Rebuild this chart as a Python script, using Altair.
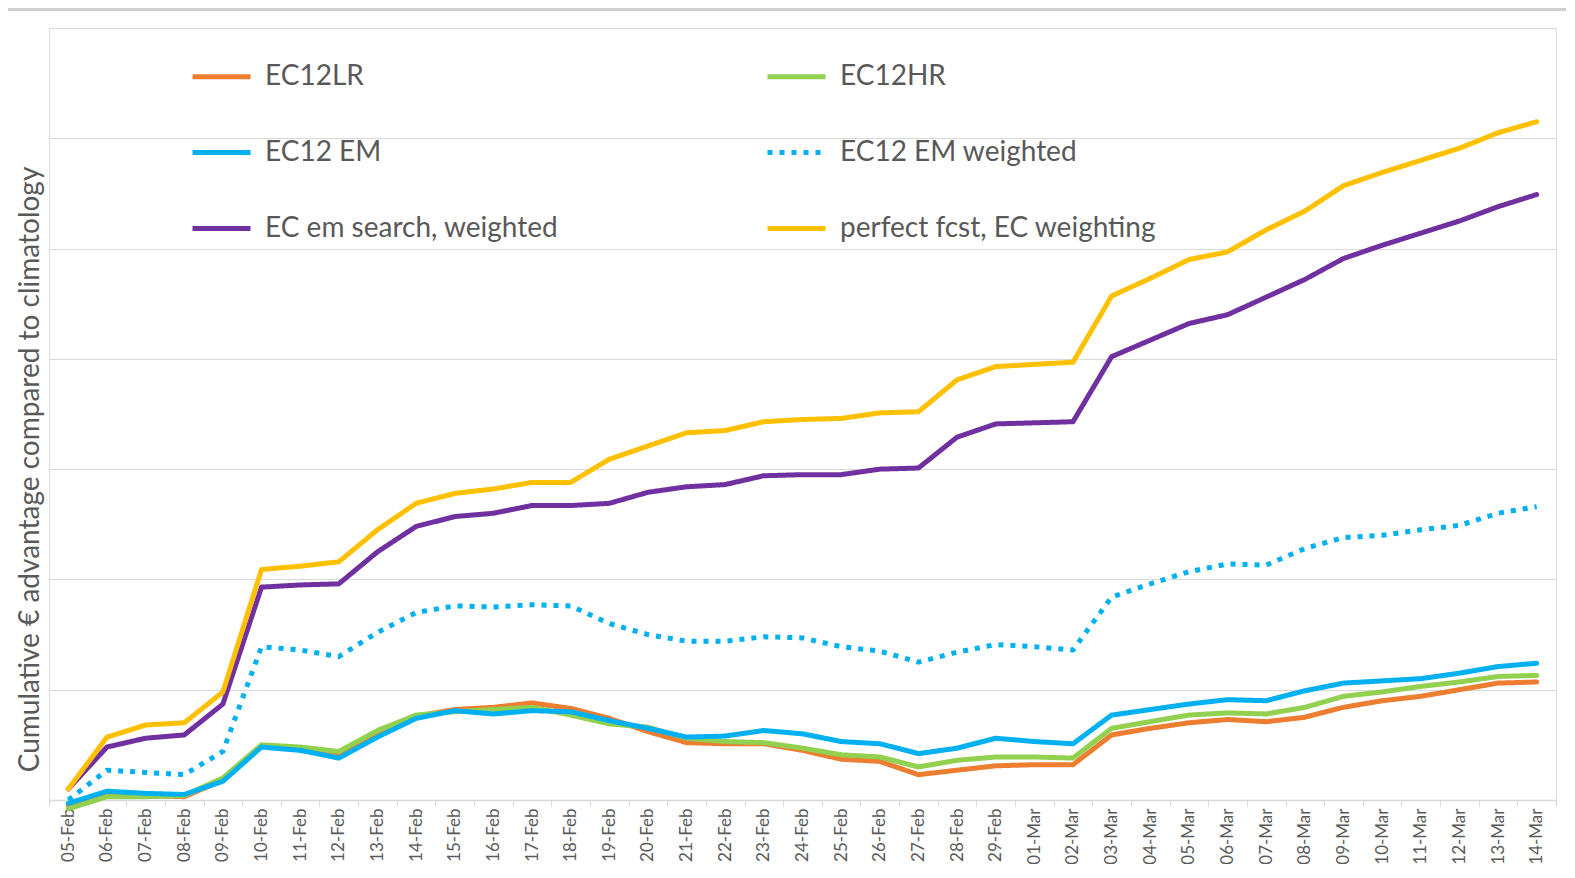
import altair as alt
import pandas as pd

dates = ["05-Feb", "06-Feb", "07-Feb", "08-Feb", "09-Feb", "10-Feb", "11-Feb", "12-Feb",
         "13-Feb", "14-Feb", "15-Feb", "16-Feb", "17-Feb", "18-Feb", "19-Feb", "20-Feb",
         "21-Feb", "22-Feb", "23-Feb", "24-Feb", "25-Feb", "26-Feb", "27-Feb", "28-Feb",
         "29-Feb", "01-Mar", "02-Mar", "03-Mar", "04-Mar", "05-Mar", "06-Mar", "07-Mar",
         "08-Mar", "09-Mar", "10-Mar", "11-Mar", "12-Mar", "13-Mar", "14-Mar"]

ec12_lr = [-0.05, 0.05, 0.04, 0.03, 0.18, 0.49, 0.47, 0.41, 0.60, 0.76, 0.82, 0.84, 0.88,
           0.83, 0.74, 0.62, 0.52, 0.51, 0.51, 0.45, 0.37, 0.35, 0.23, 0.27, 0.31, 0.32,
           0.32, 0.59, 0.65, 0.70, 0.73, 0.71, 0.75, 0.84, 0.90, 0.94, 1.00, 1.06, 1.07]
ec12_hr = [-0.08, 0.03, 0.03, 0.04, 0.20, 0.50, 0.48, 0.44, 0.63, 0.77, 0.80, 0.82, 0.84,
           0.77, 0.69, 0.66, 0.56, 0.53, 0.52, 0.47, 0.41, 0.39, 0.30, 0.36, 0.39, 0.39,
           0.38, 0.65, 0.71, 0.77, 0.79, 0.78, 0.84, 0.94, 0.98, 1.03, 1.07, 1.12, 1.13]
ec12_em = [-0.03, 0.08, 0.06, 0.05, 0.17, 0.48, 0.45, 0.38, 0.57, 0.74, 0.81, 0.78, 0.81,
           0.80, 0.72, 0.65, 0.57, 0.58, 0.63, 0.60, 0.53, 0.51, 0.42, 0.47, 0.56, 0.53,
           0.51, 0.77, 0.82, 0.87, 0.91, 0.90, 0.99, 1.06, 1.08, 1.10, 1.15, 1.21, 1.24]
ec12_em_w = [0.00, 0.27, 0.25, 0.23, 0.44, 1.39, 1.36, 1.30, 1.52, 1.70, 1.76, 1.75, 1.77,
             1.76, 1.60, 1.50, 1.44, 1.44, 1.48, 1.47, 1.39, 1.35, 1.25, 1.34, 1.41, 1.39,
             1.36, 1.84, 1.96, 2.07, 2.14, 2.13, 2.28, 2.38, 2.40, 2.45, 2.49, 2.60, 2.66]
ec_search_w = [0.10, 0.48, 0.56, 0.59, 0.87, 1.93, 1.95, 1.96, 2.25, 2.48, 2.57, 2.60, 2.67,
               2.67, 2.69, 2.79, 2.84, 2.86, 2.94, 2.95, 2.95, 3.00, 3.01, 3.29, 3.41, 3.42,
               3.43, 4.02, 4.17, 4.32, 4.40, 4.56, 4.72, 4.91, 5.03, 5.14, 5.25, 5.38, 5.49]
perfect = [0.10, 0.57, 0.68, 0.70, 0.98, 2.09, 2.12, 2.16, 2.45, 2.69, 2.78, 2.82, 2.88,
           2.88, 3.09, 3.21, 3.33, 3.35, 3.43, 3.45, 3.46, 3.51, 3.52, 3.81, 3.93, 3.95,
           3.97, 4.57, 4.73, 4.90, 4.97, 5.17, 5.34, 5.57, 5.69, 5.80, 5.91, 6.05, 6.15]

# drawing order (later on top)
series_names = ["EC12LR", "EC12HR", "EC12 EM", "EC12 EM weighted",
                "EC em search, weighted", "perfect fcst, EC weighting"]
series_values = [ec12_lr, ec12_hr, ec12_em, ec12_em_w, ec_search_w, perfect]
series_colors = {"EC12LR": "#ED7D31", "EC12HR": "#92D050", "EC12 EM": "#00B0F0",
                 "EC12 EM weighted": "#00B0F0", "EC em search, weighted": "#7030A0",
                 "perfect fcst, EC weighting": "#FFC000"}
series_dash = {"EC12LR": [1, 0], "EC12HR": [1, 0], "EC12 EM": [1, 0],
               "EC12 EM weighted": [5, 7], "EC em search, weighted": [1, 0],
               "perfect fcst, EC weighting": [1, 0]}
# legend order (filled column by column: 3 rows x 2 columns)
legend_order = ["EC12LR", "EC12 EM", "EC em search, weighted",
                "EC12HR", "EC12 EM weighted", "perfect fcst, EC weighting"]

rows = []
for name, vals in zip(series_names, series_values):
    for d, v in zip(dates, vals):
        rows.append({"date": d, "value": v, "series": name})
df = pd.DataFrame(rows)

TXT = "#595959"
GRID = "#d9d9d9"
FONT = "Lato"
W, H = 1507, 772
PAD = {"left": 41, "top": 20, "right": 10, "bottom": 64}

legend = alt.Legend(
    title=None, orient="none", legendX=141, legendY=17, columns=2,
    symbolType="stroke", symbolSize=3364, symbolStrokeWidth=5,
    labelFont=FONT, labelFontSize=28, labelColor=TXT, labelOffset=12,
    columnPadding=198, rowPadding=30, padding=0, labelLimit=600,
)

x = alt.X("date:O", sort=dates,
          scale=alt.Scale(type="band", paddingInner=0, paddingOuter=0),
          axis=alt.Axis(title=None, labelAngle=270, labelFont=FONT, labelFontSize=17,
                        labelColor=TXT, tickBand="extent", ticks=True, tickSize=6,
                        tickColor=GRID, domainColor=GRID, domainWidth=1.5,
                        labelPadding=2, grid=False))
y = alt.Y("value:Q", scale=alt.Scale(domain=[0, 7], nice=False, zero=False),
          axis=alt.Axis(title="Cumulative € advantage compared to climatology",
                        titleFont=FONT, titleFontSize=28, titleColor=TXT,
                        titleFontWeight="normal", titleAngle=270,
                        titleBaseline="middle", titleAlign="center",
                        titleX=-19, titleY=441,
                        labels=False, ticks=False, domain=False,
                        grid=True, gridColor=GRID, gridWidth=1,
                        values=[0, 1, 2, 3, 4, 5, 6, 7]))
color = alt.Color("series:N",
                  scale=alt.Scale(domain=legend_order,
                                  range=[series_colors[n] for n in legend_order]),
                  legend=legend)
dash = alt.StrokeDash("series:N",
                      scale=alt.Scale(domain=legend_order,
                                      range=[series_dash[n] for n in legend_order]),
                      legend=legend)

layers = []
for name in series_names:
    cap = "butt" if name == "EC12 EM weighted" else "round"
    layers.append(
        alt.Chart(df).transform_filter(alt.datum.series == name)
        .mark_line(strokeWidth=5, strokeCap=cap, strokeJoin="round")
        .encode(x=x, y=y, color=color, strokeDash=dash)
    )
border = alt.Chart(df).mark_rule(color="#d0d0d0", strokeWidth=3).encode(
    x=alt.value(-PAD["left"]), x2=alt.value(W + PAD["right"]), y=alt.value(-19))
layers.append(border)

chart = alt.layer(*layers).properties(
    width=W, height=H,
    autosize=alt.AutoSizeParams(type="none"),
    padding=PAD,
).configure_view(strokeWidth=0).configure(background="white")

chart.save("out.html", embed_options={"renderer": "svg", "actions": False})
